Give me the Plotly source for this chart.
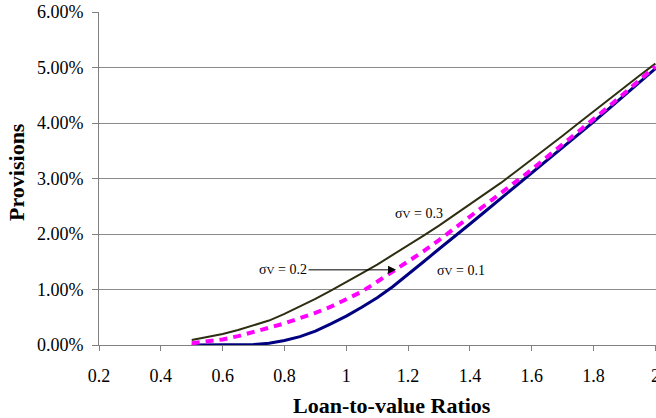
import plotly.graph_objects as go

# Loan-to-value ratios
ltv = [0.50, 0.55, 0.60, 0.65, 0.70, 0.75, 0.80, 0.85, 0.90, 0.95,
       1.00, 1.05, 1.10, 1.15, 1.20, 1.25, 1.30, 1.35, 1.40, 1.45,
       1.50, 1.55, 1.60, 1.65, 1.70, 1.75, 1.80, 1.85, 1.90, 1.95, 2.00]

# Provisions in percent
prov_s03 = [0.09, 0.14, 0.20, 0.27, 0.35, 0.44, 0.56, 0.69, 0.83, 0.98,
            1.13, 1.29, 1.45, 1.62, 1.79, 1.97, 2.15, 2.34, 2.53, 2.72,
            2.92, 3.13, 3.34, 3.56, 3.77, 3.99, 4.21, 4.43, 4.64, 4.86, 5.07]
prov_s02 = [0.03, 0.06, 0.10, 0.16, 0.23, 0.31, 0.39, 0.48, 0.58, 0.69,
            0.82, 0.96, 1.14, 1.32, 1.50, 1.69, 1.89, 2.10, 2.31, 2.52,
            2.73, 2.94, 3.16, 3.39, 3.61, 3.84, 4.07, 4.30, 4.55, 4.78, 5.02]
prov_s01 = [0.00, 0.00, 0.00, 0.00, 0.01, 0.03, 0.08, 0.15, 0.25, 0.38,
            0.52, 0.68, 0.85, 1.05, 1.27, 1.50, 1.73, 1.95, 2.18, 2.41,
            2.64, 2.86, 3.09, 3.32, 3.55, 3.79, 4.02, 4.26, 4.50, 4.74, 4.98]

x_ticks = [0.2, 0.4, 0.6, 0.8, 1.0, 1.2, 1.4, 1.6, 1.8, 2.0]
x_tick_text = ["0.2", "0.4", "0.6", "0.8", "1", "1.2", "1.4", "1.6", "1.8", "2"]
y_ticks = [0.00, 0.01, 0.02, 0.03, 0.04, 0.05, 0.06]
y_tick_text = ["0.00%", "1.00%", "2.00%", "3.00%", "4.00%", "5.00%", "6.00%"]

FONT = "Liberation Serif"
X_RANGE = [0.2, 2.002]

fig = go.Figure()
fig.add_trace(go.Scatter(x=ltv, y=[v / 100 for v in prov_s03], mode="lines",
                         line=dict(color="#2e2e12", width=2), name="σV = 0.3"))
fig.add_trace(go.Scatter(x=ltv, y=[v / 100 for v in prov_s01], mode="lines",
                         line=dict(color="#000080", width=3), name="σV = 0.1"))
fig.add_trace(go.Scatter(x=ltv, y=[v / 100 for v in prov_s02], mode="lines",
                         line=dict(color="#ff00ff", width=4, dash="8px,6px"), name="σV = 0.2"))

fig.update_layout(
    width=656, height=418,
    margin=dict(l=99, r=0, t=12, b=73),
    paper_bgcolor="white", plot_bgcolor="white",
    showlegend=False,
    font=dict(family=FONT, color="black"),
    xaxis=dict(range=X_RANGE, tickvals=x_ticks, ticktext=x_tick_text,
               showgrid=False, zeroline=False, showline=True, linecolor="#808080",
               linewidth=1, ticks="outside", ticklen=5, tickcolor="#808080",
               tickfont=dict(size=18, family=FONT), ticklabelstandoff=9,
               ticklabeloverflow="allow", automargin=False),
    xaxis2=dict(range=X_RANGE, tickvals=x_ticks, overlaying="x", anchor="y",
                side="bottom", showgrid=False, zeroline=False, showline=False,
                ticks="inside", ticklen=5, tickcolor="#808080",
                showticklabels=False, automargin=False),
    yaxis=dict(range=[0, 0.06], tickvals=y_ticks, ticktext=y_tick_text,
               showgrid=True, gridcolor="#8a8a8a", gridwidth=1, zeroline=False,
               showline=True, linecolor="#808080", linewidth=1,
               ticks="outside", ticklen=6, tickcolor="#808080",
               tickfont=dict(size=18, family=FONT), ticklabelstandoff=5,
               automargin=False),
)

ann_font = dict(family=FONT, size=14, color="black")
fig.add_annotation(x=1.234, y=0.02365, xref="x", yref="y",
                   text="σ<span style='font-size:11px'>V</span> = 0.3",
                   showarrow=False, font=ann_font)
fig.add_annotation(x=1.371, y=0.01336, xref="x", yref="y",
                   text="σ<span style='font-size:11px'>V</span> = 0.1",
                   showarrow=False, font=ann_font)
fig.add_annotation(x=1.161, y=0.01354, xref="x", yref="y",
                   text="σ<span style='font-size:11px'>V</span> = 0.2",
                   showarrow=True, ax=-113, ay=0, arrowhead=2, arrowsize=1.6,
                   arrowwidth=1, arrowcolor="black", font=ann_font)

fig.add_annotation(x=0.526, y=-0.183, xref="paper", yref="paper",
                   text="<b>Loan-to-value Ratios</b>", showarrow=False,
                   font=dict(family=FONT, size=22, color="black"),
                   xanchor="center", yanchor="middle")
fig.add_annotation(x=-0.147, y=0.52, xref="paper", yref="paper",
                   text="<b>Provisions</b>", showarrow=False, textangle=-90,
                   font=dict(family=FONT, size=22, color="black"),
                   xanchor="center", yanchor="middle")

fig.write_html("out.html")
